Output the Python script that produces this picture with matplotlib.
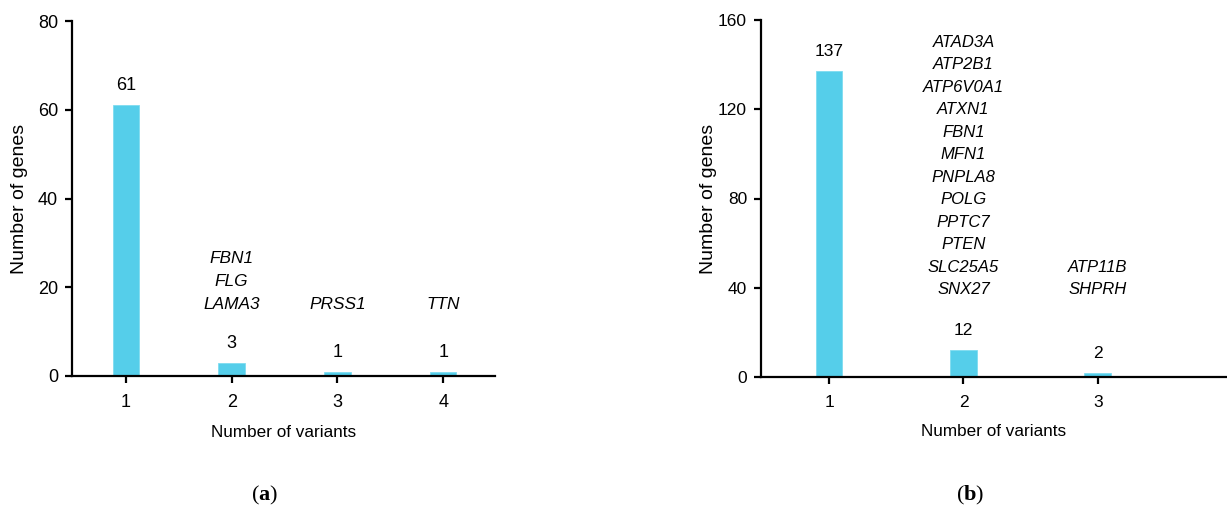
import matplotlib
matplotlib.use("Agg")
import matplotlib.pyplot as plt

plt.rcParams['font.family'] = ['Liberation Sans', 'DejaVu Sans']
plt.rcParams['mathtext.fontset'] = 'custom'
plt.rcParams['mathtext.rm'] = 'Liberation Serif'
plt.rcParams['mathtext.bf'] = 'Liberation Serif:bold'

# Panel (a)
a_variants = [1, 2, 3, 4]
a_genes = [61, 3, 1, 1]
a_labels = {2: ["FBN1", "FLG", "LAMA3"], 3: ["PRSS1"], 4: ["TTN"]}
a_yticks = [0, 20, 40, 60, 80]

# Panel (b)
b_variants = [1, 2, 3]
b_genes = [137, 12, 2]
b_labels = {2: ["ATAD3A", "ATP2B1", "ATP6V0A1", "ATXN1", "FBN1", "MFN1", "PNPLA8",
                "POLG", "PPTC7", "PTEN", "SLC25A5", "SNX27"],
            3: ["ATP11B", "SHPRH"]}
b_yticks = [0, 40, 80, 120, 160]

BAR = '#55CEEA'
FS = 13

fig = plt.figure(figsize=(12.27, 5.16), dpi=100)
axA = fig.add_axes([72/1227, 1-376/516, (495-72)/1227, (376-21)/516])
axB = fig.add_axes([761/1227, 1-377/516, (1227-761)/1227, (377-20)/516])


def style(ax, yticks, xt, xlim, fs):
    ax.set_ylim(yticks[0], yticks[-1])
    ax.set_yticks(yticks)
    ax.set_xticks(xt)
    ax.set_xlim(*xlim)
    for s in ['top', 'right']:
        ax.spines[s].set_visible(False)
    for s in ['left', 'bottom']:
        ax.spines[s].set_linewidth(1.6)
    ax.tick_params(axis='both', width=1.6, length=5, labelsize=fs, colors='black', pad=5)
    ax.tick_params(axis='x', pad=8)
    ax.set_xlabel('Number of variants', fontsize=12.3, labelpad=10)
    ax.set_ylabel('Number of genes', fontsize=14, labelpad=8)


def draw(ax, xs, ys, width, labels, base_y, spacing_pt, fs, gfs):
    ax.bar(xs, ys, width=width, color=BAR, edgecolor='#7fdcf0', linewidth=0.6, zorder=2)
    for x, y in zip(xs, ys):
        ax.annotate(str(y), xy=(x, y), xytext=(0, 14), textcoords='offset points',
                    ha='center', va='center', fontsize=fs)
    for x, genes in labels.items():
        n = len(genes)
        for i, g in enumerate(genes):
            ax.annotate(g, xy=(x, base_y), xytext=(0, (n - 1 - i) * spacing_pt),
                        textcoords='offset points', ha='center', va='center',
                        fontsize=gfs, style='italic')


style(axA, a_yticks, a_variants, (0.49, 4.49), FS)
draw(axA, a_variants, a_genes, 0.25, a_labels, 16.2, 16.5, FS, 12.4)
axA.yaxis.set_label_coords(-0.104, 0.5)

style(axB, b_yticks, b_variants, (0.494, 3.96), 12.5)
draw(axB, b_variants, b_genes, 0.2, b_labels, 39, 16.2, 12.5, 12.0)
axB.yaxis.set_label_coords(-0.094, 0.5)

fig.text(265/1227, 1-495/516, r'($\mathbf{a}$)', ha='center', va='center', fontsize=16,
         family='Liberation Serif')
fig.text(970/1227, 1-495/516, r'($\mathbf{b}$)', ha='center', va='center', fontsize=16,
         family='Liberation Serif')

fig.savefig('out.png', dpi=100)
